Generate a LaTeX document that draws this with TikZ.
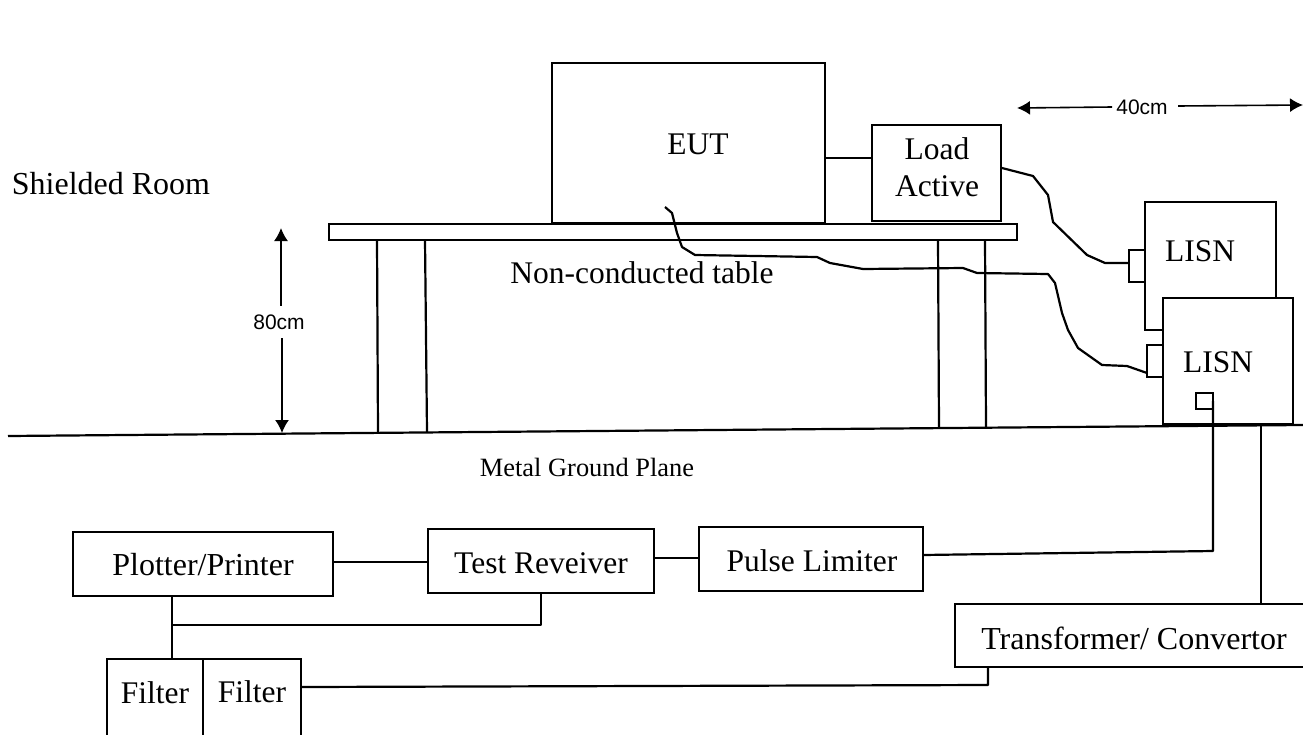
\documentclass[tikz,border=0pt]{standalone}
\usepackage{fontspec}
\setmainfont{Liberation Serif}
\newfontfamily\arialf{Liberation Sans}
\usetikzlibrary{arrows.meta}
\tikzset{
 bx/.style={draw=black,line width=2pt,rectangle,inner sep=0pt,outer sep=0pt},
 lbl/.style={inner sep=0pt,text=black,font=\fontsize{31.5}{36}\selectfont},
 biglbl/.style={inner sep=0pt,text=black,font=\fontsize{32}{36}\selectfont},
 smalllbl/.style={inner sep=0pt,text=black,font=\fontsize{26.4}{30}\selectfont},
 dim/.style={inner sep=0pt,text=black,font=\arialf\fontsize{21}{24}\selectfont},
 wire/.style={draw=black,line width=2.2pt,line join=round},
 thin wire/.style={draw=black,line width=1.5pt},
 dimline/.style={draw=black,line width=1.6pt},
 headL/.style={{Latex[length=13pt,width=14pt]}-},
 headR/.style={-{Latex[length=13pt,width=14pt]}}
}
\newcommand{\bxn}[6][]{%
 \pgfmathsetmacro{\bw}{#5-#3}\pgfmathsetmacro{\bh}{#6-#4}%
 \pgfmathsetmacro{\bcx}{(#3+#5)/2}\pgfmathsetmacro{\bcy}{(#4+#6)/2}%
 \node[bx,minimum width=\bw pt,minimum height=\bh pt,#1] (#2) at (\bcx,\bcy) {};}
\begin{document}
\begin{tikzpicture}[x=1pt,y=-1pt]
\useasboundingbox (0,0) rectangle (1303,734);
\clip (0,0) rectangle (1303,734);
\fill[white] (0,0) rectangle (1303,734);
% boxes
\bxn{eut}{552}{63}{825}{223}
\bxn{load}{872}{125}{1001}{221}
\bxn{tbl}{329}{224}{1017}{240}
\bxn{lisnA}{1145}{202}{1276}{330}
\bxn[fill=white]{lisnB}{1163}{298}{1293}{424}
\draw[wire] (lisnA.south west) -- (lisnB.west |- lisnA.south west);
\bxn{portA}{1129}{250}{1145}{282}
\bxn{portB}{1147}{345}{1163}{377}
\bxn{portC}{1196}{393}{1213}{409}
\bxn{plotter}{73}{532}{333}{596}
\bxn{test}{428}{529}{654}{593}
\bxn{pulse}{699}{527}{923}{591}
\bxn{filterA}{107}{659}{203}{760}
\bxn{filterB}{203}{659}{301}{760}
\bxn{trans}{955}{604}{1320}{667}
% table legs
\coordinate (legA1) at (377,240); \coordinate (legA2) at (378,433);
\coordinate (legB1) at (425,240); \coordinate (legB2) at (427,432);
\coordinate (legC1) at (938,240); \coordinate (legC2) at (939,428);
\coordinate (legD1) at (985,240); \coordinate (legD2) at (986,427);
\draw[wire] (legA1) -- (legA2);
\draw[wire] (legB1) -- (legB2);
\draw[wire] (legC1) -- (legC2);
\draw[wire] (legD1) -- (legD2);
% ground
\coordinate (gndL) at (8,436); \coordinate (gndR) at (1303,425);
\draw[wire] (gndL) -- (gndR);
% text
\node[biglbl] (tShield) at (111,184) {Shielded Room};
\node[lbl] (tEut) at (698,144) {EUT};
\node[lbl] (tLoad) at (937,149) {Load};
\node[lbl] (tActive) at (937,186) {Active};
\node[lbl] (tTable) at (642,273) {Non-conducted table};
\node[lbl] (tLisnA) at (1200,251) {LISN};
\node[lbl] (tLisnB) at (1218,362) {LISN};
\node[smalllbl] (tPlane) at (587,467) {Metal Ground Plane};
\node[biglbl] (tPlotter) at (203,565) {Plotter/Printer};
\node[lbl] (tTest) at (541,563) {Test Reveiver};
\node[lbl] (tPulse) at (812,561) {Pulse Limiter};
\node[lbl] (tFa) at (155,693) {Filter};
\node[lbl] (tFb) at (252,692) {Filter};
\node[biglbl] (tTrans) at (1134,638) {Transformer/ Convertor};
\node[dim] (t40) at (1142,107) {40cm};
\node[dim] (t80) at (279,322) {80cm};
% dimensions
\coordinate (d40L) at (1017,108); \coordinate (d40R) at (1303,105);
\coordinate (d40a) at (1112,107); \coordinate (d40b) at (1178,106);
\draw[dimline,headL] (d40L) -- (d40a);
\draw[dimline,headR] (d40b) -- (d40R);
\coordinate (d80T) at (281,228); \coordinate (d80B) at (282,433);
\coordinate (d80a) at (281,306); \coordinate (d80b) at (282,338);
\draw[dimline,headL] (d80T) -- (d80a);
\draw[dimline,headR] (d80b) -- (d80B);
% connectors
\coordinate (eutOut) at (825,158);
\draw[wire] (eutOut) -- (eutOut -| load.west);
\coordinate (plOut) at (333,562);
\draw[wire] (plOut) -- (plOut -| test.west);
\coordinate (teOut) at (654,558);
\draw[wire] (teOut) -- (teOut -| pulse.west);
\coordinate (plDown) at (172,596);
\draw[wire] (plDown) -- (plDown |- filterA.north);
\coordinate (tstDown) at (541,593); \coordinate (tstLow) at (541,625);
\draw[wire] (tstDown) -- (tstLow) -- (tstLow -| plDown);
\coordinate (pulseOut) at (923,555); \coordinate (pulseEnd) at (1213,551);
\draw[wire] (pulseOut) -- (pulseEnd) -- (portC.east);
\coordinate (filtOut) at (301,687); \coordinate (trDown) at (988,685);
\draw[wire] (filtOut) -- (trDown) -- (trDown |- trans.south);
\coordinate (lisnDown) at (1261,424);
\draw[thin wire] (lisnDown) -- (lisnDown |- trans.north);
% hand-drawn cables
\coordinate (cabA) at (665,207);
\draw[wire] (cabA) -- (672,213) -- (677,233) -- (682,247) -- (695,255) -- (817,257) -- (830,263) -- (863,269) -- (963,268) -- (977,273) -- (1048,274) -- (1055,283) -- (1062,313) -- (1068,330) -- (1078,348) -- (1102,365) -- (1127,366) -- (portB.west |- 0,373);
\coordinate (cabB) at (1002,168);
\draw[wire] (cabB) -- (1033,176) -- (1048,195) -- (1053,222) -- (1087,255) -- (1105,263) -- (portA.west |- 0,263);
\end{tikzpicture}
\end{document}
